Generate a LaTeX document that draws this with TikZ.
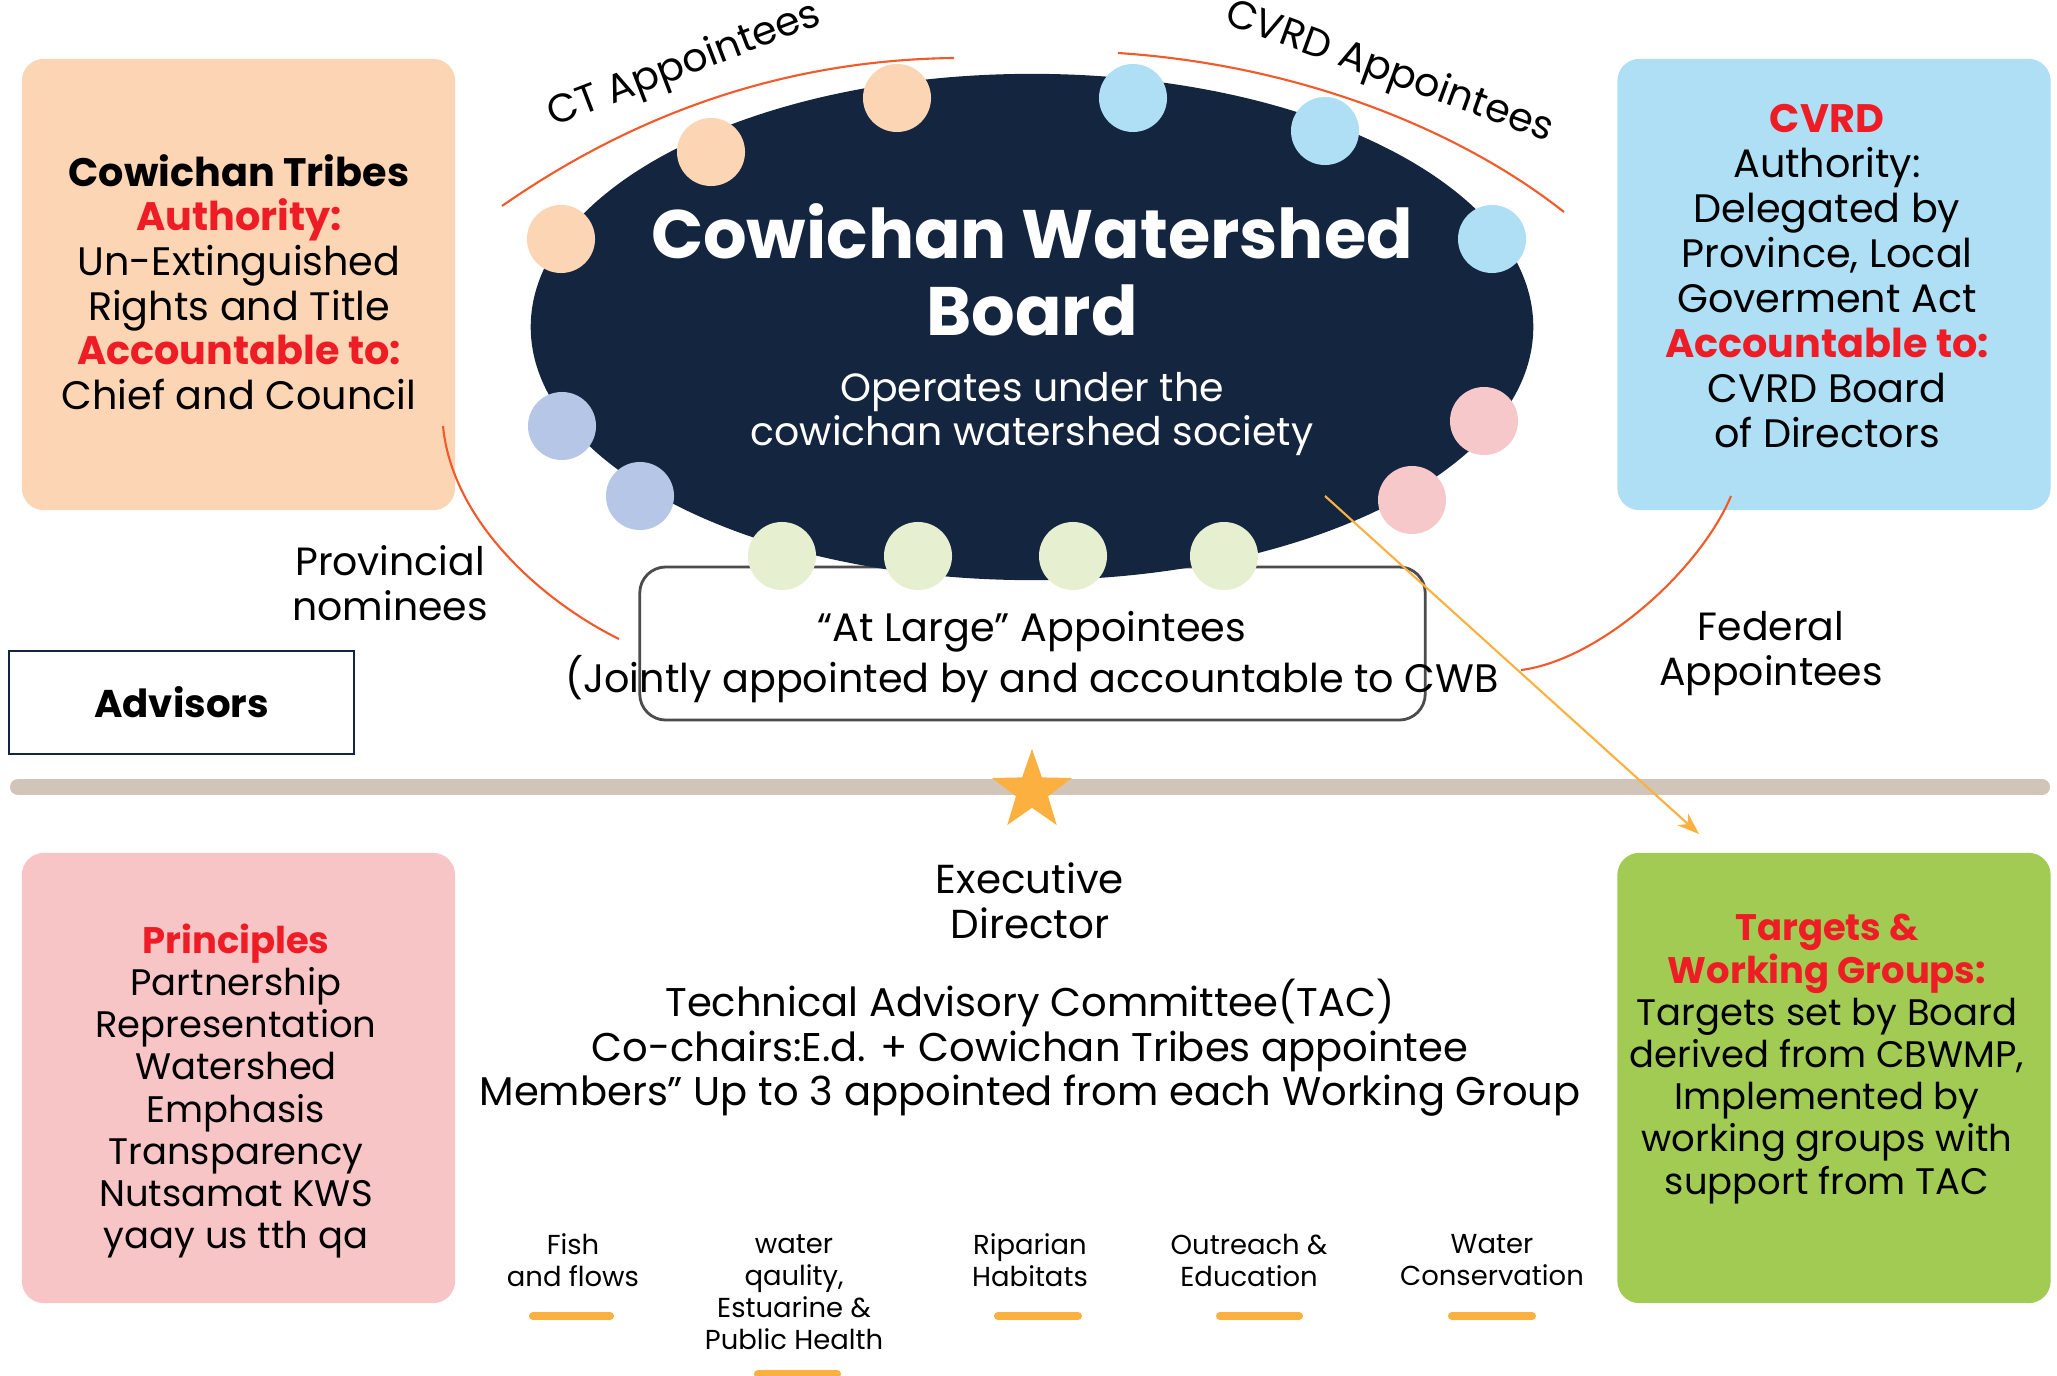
\documentclass[tikz,border=0pt]{standalone}
\usepackage{fontspec}
\setmainfont{Poppins}
\usetikzlibrary{shapes.geometric,arrows.meta}

\definecolor{navy}{HTML}{14253F}
\definecolor{peach}{HTML}{FCD5B4}
\definecolor{skyblue}{HTML}{AEDFF5}
\definecolor{rose}{HTML}{F8C5C7}
\definecolor{leaf}{HTML}{A1CB53}
\definecolor{lavender}{HTML}{B6C6E6}
\definecolor{palegreen}{HTML}{E6F0D0}
\definecolor{pinkseat}{HTML}{F7C8CA}
\definecolor{alertred}{HTML}{EE1C25}
\definecolor{linkorange}{HTML}{F15A29}
\definecolor{amber}{HTML}{FBB040}
\definecolor{barcol}{HTML}{D1C4B8}

\newcommand{\hl}[1]{\textcolor{alertred}{\textbf{#1}}}

\begin{document}
\begin{tikzpicture}[x=0.01cm,y=-0.01cm,
  panel/.style={rounded corners=0.22cm, minimum width=4.33cm, minimum height=4.51cm, inner sep=0pt},
  seat/.style={circle, minimum size=0.68cm, inner sep=0pt},
  body/.style={font=\fontsize{11.3}{12.7}\selectfont, align=center, inner sep=0pt},
  bodysm/.style={font=\fontsize{10.5}{12}\selectfont, align=center, inner sep=0pt},
  small/.style={font=\fontsize{7.8}{9.1}\selectfont, align=center, inner sep=0pt},
  link/.style={draw=linkorange, line width=0.6pt},
  taskbar/.style={draw=amber, line width=2.3pt, line cap=round}]

\useasboundingbox (0,0) rectangle (2057,1376);
\fill[white] (0,0) rectangle (2057,1376);

% four corner panels
\node[panel, fill=peach]  (ctbox)   at (238.5,284.5) {};
\node[panel, fill=skyblue] (cvrdbox) at (1834,284.5) {};
\node[panel, fill=rose, minimum height=4.50cm] (prinbox) at (238.5,1078) {};
\node[panel, fill=leaf, minimum height=4.50cm] (tgtbox)  at (1834,1078) {};

% advisors box
\node[draw=navy, line width=0.7pt, fill=white, minimum width=3.45cm, minimum height=1.03cm, inner sep=0pt,
      font=\fontsize{11}{13}\selectfont\bfseries] (advisors) at (181.5,702.5) {Advisors};

% appointee arcs
\coordinate (ctA) at (502,206);   \coordinate (ctB) at (954,58);
\coordinate (cvA) at (1118,53);   \coordinate (cvB) at (1564,212);
\coordinate (prA) at (443,426);   \coordinate (prB) at (619,639);
\coordinate (feA) at (1731,496);  \coordinate (feB) at (1521,670);
\draw[link] (ctA) .. controls (640,110) and (790,60) .. (ctB);
\draw[link] (cvA) .. controls (1300,65) and (1460,130) .. (cvB);
\draw[link] (prA) .. controls (452,520) and (540,600) .. (prB);
\draw[link] (feA) .. controls (1700,570) and (1600,660) .. (feB);

% at-large box (partly hidden behind the board)
\node[draw=black!70, line width=0.8pt, rounded corners=0.26cm, minimum width=7.85cm, minimum height=1.53cm, inner sep=0pt]
  (atlarge) at (1032.5,643.5) {};

% the board
\node[ellipse, fill=navy, minimum width=10.02cm, minimum height=5.06cm, inner sep=0pt] (board) at (1032,327) {};

% seats
\node[seat, fill=peach] (s1) at (897,98) {};
\node[seat, fill=peach] (s2) at (711,152) {};
\node[seat, fill=peach] (s3) at (561,239) {};
\node[seat, fill=skyblue] (s4) at (1133,98) {};
\node[seat, fill=skyblue] (s5) at (1325,131) {};
\node[seat, fill=skyblue] (s6) at (1492,239) {};
\node[seat, fill=lavender] (s7) at (562,426) {};
\node[seat, fill=lavender] (s8) at (640,496) {};
\node[seat, fill=pinkseat] (s9) at (1484,421) {};
\node[seat, fill=pinkseat] (s10) at (1412,500) {};
\node[seat, fill=palegreen] (s11) at (782,556) {};
\node[seat, fill=palegreen] (s12) at (918,556) {};
\node[seat, fill=palegreen] (s13) at (1073,556) {};
\node[seat, fill=palegreen] (s14) at (1224,556) {};

% board texts
\node[align=center, inner sep=0pt, text=white, font=\fontsize{19.5}{21.8}\selectfont\bfseries] (title) at (1032,270)
  {Cowichan Watershed\\Board};
\node[body, text=white, font=\fontsize{11.2}{12.5}\selectfont] (society) at (1032,414)
  {Operates under the\\cowichan watershed society};

% arc labels
\node[body, rotate=21] (ctlabel) at (685,66) {CT Appointees};
\node[body, rotate=-20] (cvlabel) at (1389,73) {CVRD Appointees};
\node[body, font=\fontsize{11.2}{12.8}\selectfont] (provlabel) at (390,583) {Provincial\\nominees};
\node[body, font=\fontsize{11.2}{12.8}\selectfont] (fedlabel) at (1771,654) {Federal\\Appointees};

% at-large text
\node[body, font=\fontsize{11.3}{12.8}\selectfont] (atlargetext) at (1032,657)
  {“At Large” Appointees\\(Jointly appointed by and accountable to CWB};

% panel texts
\node[body] (cttext) at (239,282)
  {\textbf{Cowichan Tribes}\\\hl{Authority:}\\Un-Extinguished\\Rights and Title\\\hl{Accountable to:}\\Chief and Council};
\node[body, font=\fontsize{11.3}{12.8}\selectfont] (cvrdtext) at (1827,276)
  {\hl{CVRD}\\Authority:\\Delegated by\\Province, Local\\Goverment Act\\\hl{Accountable to:}\\CVRD Board\\of Directors};
\node[bodysm] (printext) at (236,1091)
  {\hl{Principles}\\Partnership\\Representation\\Watershed\\Emphasis\\Transparency\\Nutsamat KWS\\yaay us tth qa};
\node[bodysm] (tgttext) at (1827,1059)
  {\hl{Targets \&}\\\hl{Working Groups:}\\Targets set by Board\\derived from CBWMP,\\Implemented by\\working groups with\\support from TAC};

% divider and star
\coordinate (barL) at (18,787);
\coordinate (barR) at (2042,787);
\draw[barcol, line width=4.55pt, line cap=round] (barL) -- (barR);
\node[star, star points=5, star point ratio=2.5, fill=amber, minimum size=0.84cm, inner sep=0pt] (star) at (1032,791) {};

% executive director and TAC
\node[body, font=\fontsize{11.5}{12.8}\selectfont] (exec) at (1030,901) {Executive\\Director};
\node[body, font=\fontsize{11.4}{12.7}\selectfont] (tac) at (1030,1048)
  {Technical Advisory Committee(TAC)\\Co-chairs:E.d. + Cowichan Tribes appointee\\Members” Up to 3 appointed from each Working Group};

% board to working groups
\coordinate (arrA) at (1325,496);
\coordinate (arrB) at (1699,834);
\draw[amber, line width=0.6pt, -{Stealth[length=0.22cm,width=0.16cm]}] (arrA) -- (arrB);

% working groups
\node[small] (wg1) at (573,1260) {Fish\\and flows};
\node[small] (wg2) at (794,1292) {water\\qaulity,\\Estuarine \&\\Public Health};
\node[small] (wg3) at (1030,1260) {Riparian\\Habitats};
\node[small] (wg4) at (1249,1260) {Outreach \&\\Education};
\node[small] (wg5) at (1492,1260) {Water\\Conservation};

\coordinate (d1a) at (533,1316);  \coordinate (d1b) at (610,1316);
\coordinate (d2a) at (758,1374);  \coordinate (d2b) at (837,1374);
\coordinate (d3a) at (998,1316);  \coordinate (d3b) at (1078,1316);
\coordinate (d4a) at (1220,1316); \coordinate (d4b) at (1299,1316);
\coordinate (d5a) at (1452,1316); \coordinate (d5b) at (1532,1316);
\draw[taskbar] (d1a) -- (d1b);
\draw[taskbar] (d2a) -- (d2b);
\draw[taskbar] (d3a) -- (d3b);
\draw[taskbar] (d4a) -- (d4b);
\draw[taskbar] (d5a) -- (d5b);

\end{tikzpicture}
\end{document}
